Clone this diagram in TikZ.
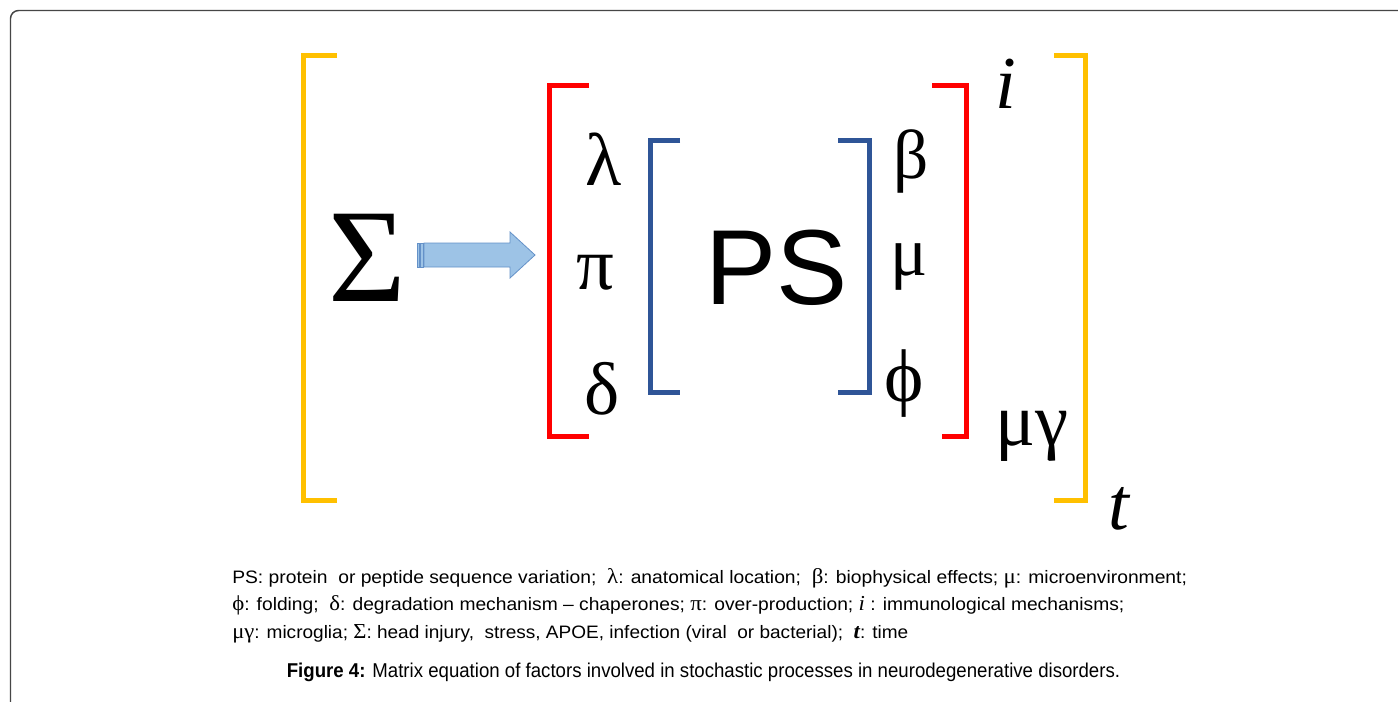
\documentclass[tikz,border=0pt]{standalone}
\usepackage{fontspec}
\setmainfont{Liberation Sans}
\newfontfamily\grk{Liberation Serif}
\usepackage{graphicx}
\definecolor{yellowc}{RGB}{255,192,0}
\definecolor{redc}{RGB}{255,0,0}
\definecolor{bluec}{RGB}{47,85,151}
\definecolor{arrfill}{RGB}{157,195,230}
\definecolor{arrdraw}{RGB}{100,145,200}
\definecolor{framec}{RGB}{70,70,70}
\tikzset{
  brk/.style={line width=3.75pt, line cap=butt, line join=miter},
  sym/.style={inner sep=0pt, anchor=center, font=\grk},
  capline/.style={inner sep=0pt, anchor=base west},
}
\newcommand{\gs}{\grk\fontsize{16}{16}\selectfont}
\begin{document}
\begin{tikzpicture}[x=0.75pt,y=-0.75pt]
\useasboundingbox (0,0) rectangle (1398,701);
\fill[white] (0,0) rectangle (1398,701);
% frame
\begin{scope}
\clip (0,0) rectangle (1398,701);
\draw[framec, line width=1.1pt, rounded corners=6pt] (10.5,720) -- (10.5,10.5) -- (1420,10.5);
\end{scope}
% yellow brackets
\draw[brk, yellowc] (337,55) -- (303.5,55) -- (303.5,500) -- (337,500);
\draw[brk, yellowc] (1054,55) -- (1085,55) -- (1085,500) -- (1054,500);
% red brackets
\draw[brk, redc] (589,85) -- (549.5,85) -- (549.5,436.5) -- (589,436.5);
\draw[brk, redc] (932,85) -- (966.5,85) -- (966.5,436.5) -- (942,436.5);
% blue brackets
\draw[brk, bluec] (680,140) -- (650.5,140) -- (650.5,392.5) -- (680,392.5);
\draw[brk, bluec] (838,140) -- (869.5,140) -- (869.5,392.5) -- (838,392.5);
% symbols
\node[sym, font=\grk\fontsize{100}{100}\selectfont] (sigma) at (367.5,257.5) {Σ};
\node[sym, font=\grk\fontsize{56}{56}\selectfont] (lam) at (603.5,159) {λ};
\node[sym, font=\grk\fontsize{56}{56}\selectfont] (pi) at (595,272.5) {π};
\node[sym, font=\grk\fontsize{56}{56}\selectfont] (del) at (602.5,389) {δ};
\node[sym, font=\grk\fontsize{52}{52}\selectfont] (beta) at (911.5,161.5) {β};
\node[sym, font=\grk\fontsize{52}{52}\selectfont] (mu) at (909,266.5) {μ};
\node[sym, font=\grk\fontsize{56}{56}\selectfont] (phi) at (904.5,383.5) {ϕ};
\node[inner sep=0pt, anchor=center, font=\fontsize{80}{80}\selectfont] (ps) at (776.5,268) {PS};
\node[sym, font=\grk\itshape\fontsize{56}{56}\selectfont] (iim) at (1006,84) {i};
\node[sym, font=\grk\fontsize{56}{56}\selectfont] (mugam) at (1032,436.5) {μγ};
\node[sym, font=\grk\itshape\fontsize{56}{56}\selectfont] (tt) at (1119,509) {t};
% block arrow
\fill[arrfill, draw=arrdraw, line width=0.6pt] (417,243) rectangle (419.5,267);
\fill[arrfill, draw=arrdraw, line width=0.6pt] (420.5,243) rectangle (423,267);
\filldraw[fill=arrfill, draw=arrdraw, line width=0.6pt, line join=miter]
  (424,243) -- (510,243) -- (510,232) -- (535,255) -- (510,278) -- (510,267) -- (424,267) -- cycle;
% legend
\node[capline, font=\fontsize{13.5}{15}\selectfont] (l1) at (232,583) {\resizebox{716pt}{\height}{PS: protein\ \ or peptide sequence variation;\ \ {\gs λ}: anatomical location;\ \ {\gs β}: biophysical effects; {\gs μ}: microenvironment;}};
\node[capline, font=\fontsize{13.5}{15}\selectfont] (l2) at (232,610.5) {\resizebox{669pt}{\height}{{\gs ϕ}: folding;\ \ {\gs δ}: degradation mechanism -- chaperones; {\gs π}: over-production; {\gs\itshape i} : immunological mechanisms;}};
\node[capline, font=\fontsize{13.5}{15}\selectfont] (l3) at (232,638) {\resizebox{507pt}{\height}{{\gs μγ}: microglia; {\gs Σ}: head injury,\ \ stress, APOE, infection (viral\ \ or bacterial);\ \ {\gs\bfseries\itshape t}: time}};
\node[inner sep=0pt, anchor=base, font=\fontsize{15}{16}\selectfont] (cap) at (703.5,677) {\resizebox{625pt}{\height}{\textbf{Figure 4:} Matrix equation of factors involved in stochastic processes in neurodegenerative disorders.}};
\end{tikzpicture}
\end{document}
